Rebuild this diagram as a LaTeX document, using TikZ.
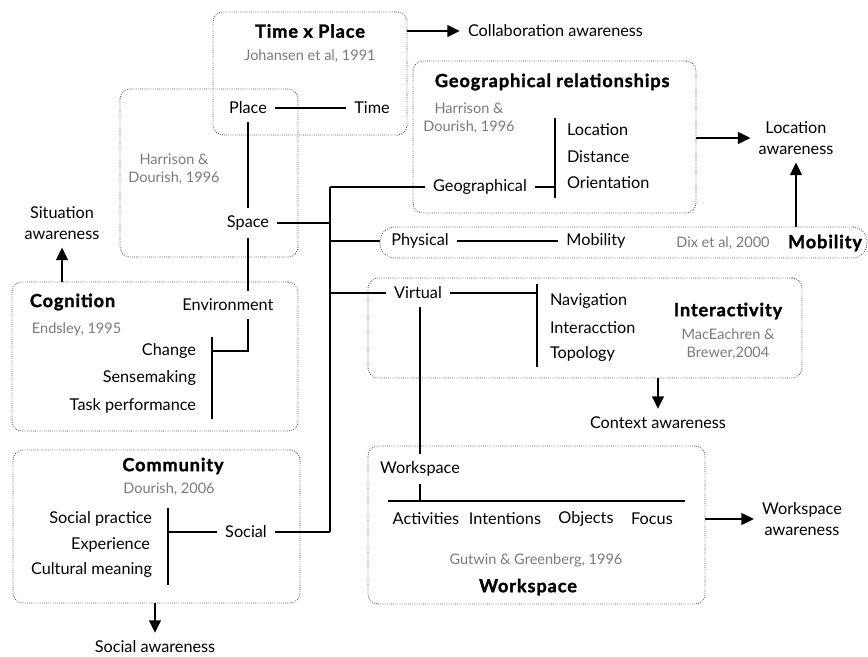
\documentclass[tikz,border=0pt]{standalone}
\usepackage{fontspec}
\setmainfont{Lato}
\newfontfamily\heavyfont{Lato}[BoldFeatures={FakeBold=1.5}, LetterSpace=5]
\usetikzlibrary{positioning, calc, arrows.meta, fit}

\begin{document}
\begin{tikzpicture}[x=0.75pt,y=-0.75pt,
    txt/.style={font=\fontsize{12.2}{15.5}\selectfont, inner sep=2pt, outer sep=4pt},
    ttl/.style={font=\fontsize{13.6}{15}\selectfont\heavyfont\bfseries, inner sep=2pt},
    cite/.style={font=\fontsize{10.9}{13.5}\selectfont, text=black!52, align=center, inner sep=2pt},
    region/.style={draw=black!70, densely dotted, line width=0.6pt, rounded corners=7.5pt, inner sep=0pt, outer sep=0pt},
    link/.style={line width=2.2pt},
    arr/.style={line width=2.2pt, -{Triangle[length=9.5pt,width=8.5pt]}}]
    \useasboundingbox (0,0) rectangle (868,657);
    % time x place
    \node[ttl] (tpttl) at (310,31) {Time x Place};
    \node[cite] (tpcite) at (310,56) {Johansen et al, 1991};
    \node[txt] (place) at (248,108) {Place};
    \node[txt] (time) at (372,108) {Time};
    \node[region, fit={(213,12) (407,135)}] (tpbox) {};
    \node[txt, anchor=west] (collab) at (460,31) {Collaboration awareness};
    % space
    \node[cite] (spcite) at (174,169) {Harrison \&\\Dourish, 1996};
    \node[txt] (space) at (248,223) {Space};
    \node[region, fit={(120,89) (298,257)}] (spbox) {};
    % cognition
    \node[ttl, anchor=west] (cogttl) at (27,302) {Cognition};
    \node[cite, anchor=west] (cogcite) at (29,329) {Endsley, 1995};
    \node[txt] (env) at (228,305) {Environment};
    \node[txt, anchor=east] (change) at (204,351) {Change};
    \node[txt, anchor=east] (sense) at (204,378) {Sensemaking};
    \node[txt, anchor=east] (task) at (204,406) {Task performance};
    \node[region, fit={(12,282) (298,431)}] (cogbox) {};
    \node[txt, align=center] (sitaw) at (62,223) {Situation\\awareness};
    % community
    \node[ttl] (comttl) at (173,466) {Community};
    \node[cite] (comcite) at (169,489) {Dourish, 2006};
    \node[txt, anchor=east] (socprac) at (160,519) {Social practice};
    \node[txt, anchor=east] (exper) at (158,545) {Experience};
    \node[txt, anchor=east] (cultmean) at (160,570) {Cultural meaning};
    \node[txt] (social) at (246,532) {Social};
    \node[region, fit={(13,450) (300,603)}] (combox) {};
    \node[txt] (socaw) at (155,647) {Social awareness};
    % geographical relationships
    \node[ttl, anchor=west] (geottl) at (432,82) {Geographical relationships};
    \node[cite] (geocite) at (469,118) {Harrison \&\\Dourish, 1996};
    \node[txt] (geo) at (480,187) {Geographical};
    \node[txt, anchor=west] (loc) at (559,130) {Location};
    \node[txt, anchor=west] (dist) at (559,157) {Distance};
    \node[txt, anchor=west] (orient) at (559,183) {Orientation};
    \node[region, fit={(413,61) (696,213)}] (geobox) {};
    \node[txt, align=center] (locaw) at (796,138) {Location\\awareness};
    % mobility
    \node[txt] (phys) at (420,241) {Physical};
    \node[txt] (mob) at (596,241) {Mobility};
    \node[cite] (mobcite) at (723,243) {Dix et al, 2000};
    \node[ttl] (mobttl) at (825,243) {Mobility};
    \node[region, rounded corners=11pt, fit={(380,227) (867,258)}] (mobbox) {};
    % interactivity
    \node[txt] (virt) at (418,293) {Virtual};
    \node[txt, anchor=west] (nav) at (542,301) {Navigation};
    \node[txt, anchor=west] (interac) at (542,328) {Interacction};
    \node[txt, anchor=west] (topo) at (542,354) {Topology};
    \node[ttl] (intttl) at (728,311) {Interactivity};
    \node[cite] (intcite) at (728,344) {MacEachren \&\\Brewer,2004};
    \node[region, fit={(368,278) (802,378)}] (intbox) {};
    \node[txt] (ctxaw) at (658,423) {Context awareness};
    % workspace
    \node[txt] (wslbl) at (420,469) {Workspace};
    \node[txt] (activ) at (426,519) {Activities};
    \node[txt] (inten) at (505,519) {Intentions};
    \node[txt] (objs) at (586,519) {Objects};
    \node[txt] (focus) at (652,519) {Focus};
    \node[cite] (wscite) at (536,560) {Gutwin \& Greenberg, 1996};
    \node[ttl] (wsttl) at (528,587) {Workspace};
    \node[region, fit={(368,446) (705,604)}] (wsbox) {};
    \node[txt, align=center] (wsaw) at (802,519) {Workspace\\awareness};

    % bars and bus
    \coordinate (bustop) at (330,187);
    \coordinate (busbot) at (330,532);
    \coordinate (cbar1) at (212,337);
    \coordinate (cbar2) at (212,419);
    \coordinate (gbar1) at (555,118);
    \coordinate (gbar2) at (555,198);
    \coordinate (ibar1) at (537,284);
    \coordinate (ibar2) at (537,367);
    \coordinate (wbar1) at (388,501);
    \coordinate (wbar2) at (685,501);
    \coordinate (sbar1) at (168,508);
    \coordinate (sbar2) at (168,585);

    \draw[link] (place) -- (time);
    \draw[link] (place) -- (space);
    \draw[link] (space.south) -- (space.south |- env.north);
    \draw[link] (cbar1) -- (cbar2);
    \draw[link] (env.south -| space) |- (change.east -| cbar1);
    \draw[link] (bustop) -- (busbot);
    \draw[link] (space) -- (space -| bustop);
    \draw[link] (bustop) -- (geo);
    \draw[link] (phys -| bustop) -- (mobbox.west |- phys);
    \draw[link] (virt -| bustop) -- (virt);
    \draw[link] (social) -- (social -| busbot);
    \draw[link] (gbar1) -- (gbar2);
    \draw[link] (geo) -- (geo -| gbar1);
    \draw[link] (phys) -- (mob);
    \draw[link] (ibar1) -- (ibar2);
    \draw[link] (virt) -- (virt -| ibar1);
    \draw[link] (virt.south -| wslbl) -- (wslbl);
    \draw[link] (wbar1) -- (wbar2);
    \draw[link] (wslbl) -- (wslbl |- wbar1);
    \draw[link] (sbar1) -- (sbar2);
    \draw[link] (social) -- (social -| sbar1);

    % awareness arrows
    \draw[arr] (tpbox.east |- tpttl) -- (collab);
    \draw[arr] (geobox.east |- locaw) -- (locaw);
    \draw[arr] (mobbox.north -| locaw) -- (locaw);
    \draw[arr] (cogbox.north -| sitaw) -- (sitaw);
    \draw[arr] (intbox.south -| ctxaw) -- (ctxaw);
    \draw[arr] (combox.south -| socaw) -- (socaw);
    \draw[arr] (wsbox.east |- activ) -- (wsaw);
\end{tikzpicture}
\end{document}
